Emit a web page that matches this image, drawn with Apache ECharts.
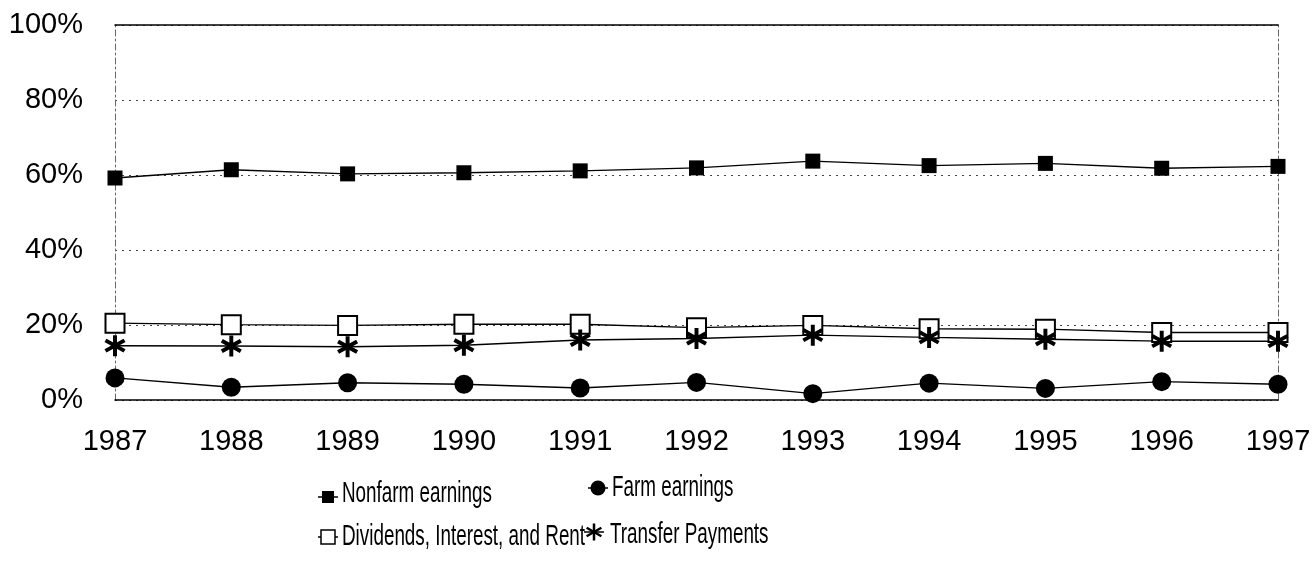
<!DOCTYPE html>
<html>
<head>
<meta charset="utf-8">
<script src="https://cdn.jsdelivr.net/npm/echarts@6/dist/echarts.min.js"></script>
<style>
  html, body { margin: 0; padding: 0; background: #fff; }
  #chart { width: 1314px; height: 568px; }
</style>
</head>
<body>
<div id="chart"></div>
<script>
// Shares of personal income by source, 1987-1997 (percent)
const years = ['1987','1988','1989','1990','1991','1992','1993','1994','1995','1996','1997'];
const nonfarm   = [59.2, 61.4, 60.3, 60.6, 61.1, 61.9, 63.7, 62.5, 63.1, 61.8, 62.3];
const farm      = [5.9, 3.4, 4.6, 4.2, 3.2, 4.7, 1.7, 4.5, 3.1, 4.9, 4.2];
const dividends = [20.5, 20.1, 19.9, 20.2, 20.2, 19.3, 19.9, 19.0, 18.9, 18.0, 18.0];
const transfer  = [14.5, 14.4, 14.2, 14.6, 16.0, 16.4, 17.3, 16.7, 16.2, 15.7, 15.7];
const yTicks    = [0, 20, 40, 60, 80, 100];
const seriesNames = ['Nonfarm earnings', 'Farm earnings', 'Dividends, Interest, and Rent', 'Transfer Payments'];

const FONT = "'Liberation Sans', Arial, sans-serif";
const ARM_ANGLES = [90, 30, 150];

// Asterisk outline built from three thin crossing bars (unit box)
function asteriskPathData() {
  const w = 0.09, parts = [];
  ARM_ANGLES.forEach(function (deg) {
    const a = deg * Math.PI / 180;
    const dx = Math.cos(a) * 0.5, dy = Math.sin(a) * 0.5;
    const px = -Math.sin(a) * w, py = Math.cos(a) * w;
    const pts = [[dx + px, dy + py], [dx - px, dy - py], [-dx - px, -dy - py], [-dx + px, -dy + py]];
    parts.push('M' + pts.map(function (p) { return (p[0] + 0.5).toFixed(3) + ' ' + (p[1] + 0.5).toFixed(3); }).join(' L') + ' Z');
  });
  return parts.join(' ');
}

function series(name, data, symbol, size, fill) {
  return {
    name: name,
    type: 'line',
    data: data,
    symbol: symbol,
    symbolSize: size,
    showAllSymbol: true,
    lineStyle: { color: '#000', width: 1.5 },
    itemStyle: { color: fill, borderColor: '#000', borderWidth: fill === '#fff' ? 2 : 0 },
    emphasis: { disabled: true },
    animation: false
  };
}

// Legend entry: short line, marker and condensed label
function legendItem(cx, cy, markers, label, textX, textY) {
  return {
    type: 'group',
    children: [
      { type: 'line', shape: { x1: cx - 10, y1: cy, x2: cx + 10, y2: cy }, style: { stroke: '#000', lineWidth: 1.5 } }
    ].concat(markers).concat([{
      type: 'text', x: textX, y: textY, scaleX: 0.65,
      style: { text: label, x: 0, y: 0, fill: '#000', font: '29px ' + FONT, verticalAlign: 'middle', align: 'left' }
    }])
  };
}

function asteriskLines(cx, cy, size) {
  return ARM_ANGLES.map(function (deg) {
    const a = deg * Math.PI / 180, r = size / 2;
    return {
      type: 'line',
      shape: { x1: cx - Math.cos(a) * r, y1: cy - Math.sin(a) * r, x2: cx + Math.cos(a) * r, y2: cy + Math.sin(a) * r },
      style: { stroke: '#000', lineWidth: 2.5 }
    };
  });
}

const chart = echarts.init(document.getElementById('chart'), null, { renderer: 'canvas' });
chart.setOption({
  backgroundColor: '#fff',
  textStyle: { fontFamily: FONT, color: '#000' },
  grid: { left: 115, right: 36, top: 25, bottom: 168, containLabel: false },
  xAxis: [{
    type: 'category',
    data: years,
    boundaryGap: false,
    axisLine: { onZero: false, lineStyle: { color: '#000', width: 1.5 } },
    axisTick: { show: false },
    axisLabel: { fontFamily: FONT, fontSize: 29, color: '#000', margin: 27 },
    splitLine: { show: false }
  }, {
    type: 'category',
    data: years,
    position: 'top',
    boundaryGap: false,
    axisLine: { onZero: false, lineStyle: { color: '#000', width: 1.5 } },
    axisTick: { show: false },
    axisLabel: { show: false }
  }],
  yAxis: [{
    type: 'value',
    min: 0, max: 100, interval: 20,
    axisLine: { show: true, lineStyle: { color: '#666', type: [6, 3, 2, 3], width: 1 } },
    axisTick: { show: false },
    axisLabel: {
      fontFamily: FONT, fontSize: 29, color: '#000', margin: 32,
      formatter: function (v) { return yTicks.indexOf(v) >= 0 ? v + '%' : ''; }
    },
    splitLine: { show: true, lineStyle: { color: '#444', type: [2, 5], width: 1 } }
  }, {
    type: 'value',
    min: 0, max: 100, interval: 20,
    position: 'right',
    axisLine: { show: true, lineStyle: { color: '#666', type: [6, 3, 2, 3], width: 1 } },
    axisTick: { show: false },
    axisLabel: { show: false },
    splitLine: { show: false }
  }],
  graphic: [
    legendItem(328, 497,
      [{ type: 'rect', shape: { x: 322, y: 491, width: 12, height: 12 }, style: { fill: '#000' } }],
      seriesNames[0], 342, 494),
    legendItem(598, 488,
      [{ type: 'circle', shape: { cx: 598, cy: 488, r: 7.5 }, style: { fill: '#000' } }],
      seriesNames[1], 612, 488),
    legendItem(328, 537,
      [{ type: 'rect', shape: { x: 321, y: 530, width: 14, height: 14 }, style: { fill: '#fff', stroke: '#000', lineWidth: 1.5 } }],
      seriesNames[2], 342, 537),
    legendItem(594, 532, asteriskLines(594, 532, 17), seriesNames[3], 610, 535)
  ],
  series: [
    series(seriesNames[0], nonfarm, 'rect', 15, '#000'),
    series(seriesNames[1], farm, 'circle', 19, '#000'),
    series(seriesNames[2], dividends, 'rect', 19, '#fff'),
    series(seriesNames[3], transfer, 'path://' + asteriskPathData(), 21, '#000')
  ]
});
</script>
</body>
</html>
